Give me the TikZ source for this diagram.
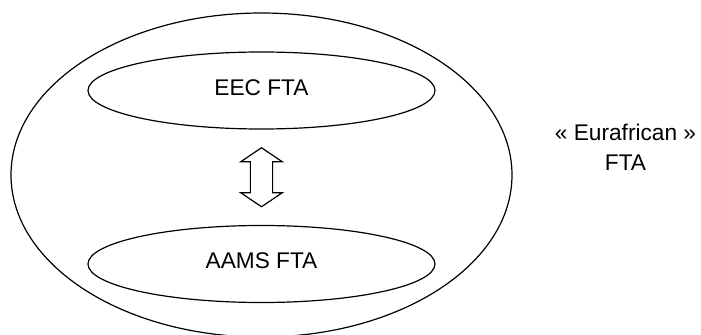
\documentclass[tikz,border=0pt]{standalone}
\usepackage{fontspec}
\setmainfont{Liberation Sans}
\usetikzlibrary{calc, shapes.geometric, shapes.arrows}

\tikzset{
	zone/.style = {draw, ellipse, line width = 0.9pt, inner sep = 0pt},
	zonetext/.style = {font = \fontsize{17}{22.5}\selectfont, text depth = 0.45em}
}

\begin{document}
\begin{tikzpicture}[x = 0.75pt, y = -0.75pt]
	\useasboundingbox (0,0) rectangle (701,335);
	\begin{scope}
		\node [zone, minimum width = 375.75pt, minimum height = 243pt] (eurafr) at (261.5,175) {};
		\node [zone, zonetext, minimum width = 260.25pt, minimum height = 57.75pt] (eec) at (261.5,90.5) {EEC FTA};
		\node [zone, zonetext, minimum width = 260.25pt, minimum height = 57.75pt] (aams) at (261.5,264) {AAMS FTA};
	\end{scope}
	\begin{scope}
		\node [draw, double arrow, rotate = 90, line width = 0.9pt,
			minimum height = 44.25pt, inner xsep = 0pt, inner ysep = 7.9pt,
			double arrow head extend = 7.3pt, double arrow tip angle = 112] (link)
			at ($(eec.south)!0.5!(aams.north)$) {};
	\end{scope}
	\begin{scope}
		\node [align = center, font = \fontsize{17}{22.5}\selectfont] (label) at (625.5,147) {« Eurafrican »\\FTA};
	\end{scope}
\end{tikzpicture}
\end{document}
